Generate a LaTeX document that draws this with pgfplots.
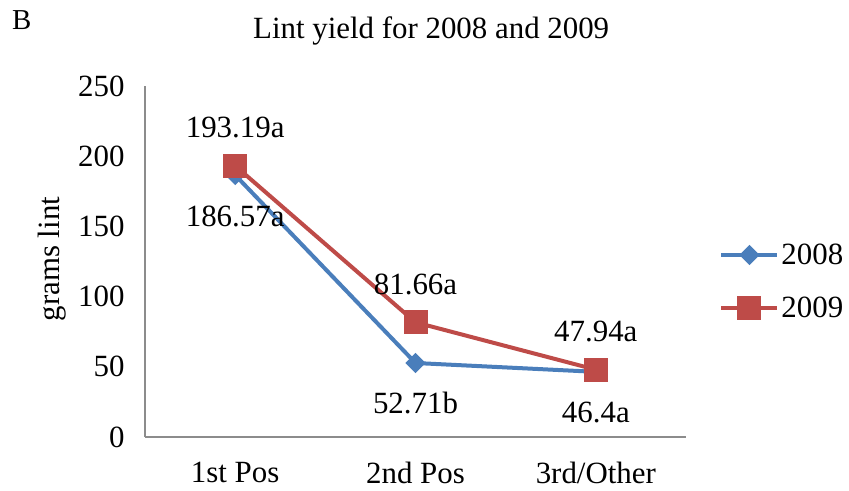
\documentclass[border=0pt]{standalone}
\usepackage{pgfplots}
\pgfplotsset{compat=1.18}
\usepackage{fontspec}
\setmainfont{Liberation Serif}
\definecolor{b08}{RGB}{74,126,187}
\definecolor{r09}{RGB}{190,75,72}
\begin{document}
\begin{tikzpicture}
\useasboundingbox (0bp,0bp) rectangle (849bp,491bp);
\node[font=\fontsize{29}{34}\selectfont, anchor=base west, inner sep=0pt] at (12bp,461bp) {B};
\begin{axis}[at={(235.17bp,54bp)}, anchor=origin, scale only axis, width=541bp, height=351bp,
 clip=false,
 xmin=-0.5, xmax=2.5, ymin=0, ymax=250, ytick={0,50,...,250}, xtick={0,1,2},
 xticklabels={1st Pos,2nd Pos,3rd/Other},
 axis x line*=bottom, axis y line*=left,
 axis line style={-, draw=black!45, line width=1.2bp},
 major tick length=0pt,
 tick label style={font=\fontsize{31}{36}\selectfont},
 /pgf/number format/assume math mode=true,
 yticklabel style={xshift=-17bp},
 xticklabel style={inner sep=0pt, yshift=-25bp},
 title={Lint yield for 2008 and 2009},
 title style={at={(axis description cs:0.529,1.118)}, anchor=base, font=\fontsize{31}{36}\selectfont},
 ylabel={grams lint},
 ylabel style={at={(axis description cs:-0.172,0.507)}, anchor=center, font=\fontsize{31}{36}\selectfont},
 legend style={at={(axis description cs:1.0615,0.443)}, anchor=west, draw=none, fill=none,
   font=\fontsize{31}{36}\selectfont, row sep=27bp, inner sep=0pt},
 legend cell align=left,
 legend image code/.code={\draw[mark repeat=2,mark phase=2] plot coordinates {(0bp,0bp) (28bp,0bp) (56bp,0bp)};},
 every node near coord/.append style={text=black, font=\fontsize{31}{36}\selectfont, anchor=base},
]
\addplot[color=b08, line width=4bp, mark=diamond*, mark size=8bp, mark options={solid, xscale=1.2, yscale=0.9},
  nodes near coords, point meta=explicit symbolic,
  every node near coord/.append style={yshift=-51bp}]
  coordinates {(0,186.57) [186.57a] (1,52.71) [52.71b] (2,46.4) [46.4a]};
\addlegendentry{2008}
\addplot[color=r09, line width=4bp, mark=square*, mark size=10bp, mark options={solid},
  nodes near coords, point meta=explicit symbolic,
  every node near coord/.append style={yshift=28bp}]
  coordinates {(0,193.19) [193.19a] (1,81.66) [81.66a] (2,47.94) [47.94a]};
\addlegendentry{2009}
\end{axis}
\end{tikzpicture}
\end{document}
